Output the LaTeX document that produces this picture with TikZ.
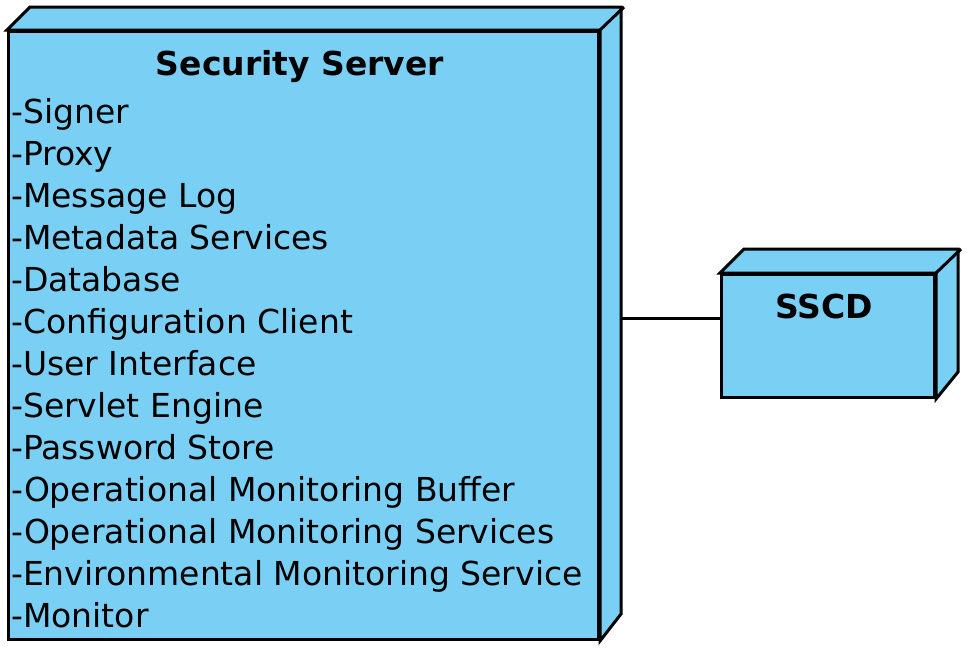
\documentclass[tikz,border=0pt]{standalone}
\usepackage{fontspec}
\setmainfont{DejaVu Sans}
\usetikzlibrary{positioning}
\definecolor{nodeblue}{RGB}{122,207,244}
\tikzset{
  nodebox/.style={draw=black, fill=nodeblue, line width=3pt, inner sep=0pt},
  nodeside/.style={draw=black, fill=nodeblue, line width=3pt, line join=miter},
  title/.style={font=\fontsize{33}{40}\selectfont\bfseries, inner sep=0pt},
  item/.style={font=\fontsize{33}{40}\selectfont, inner sep=0pt}
}

\begin{document}
\begin{tikzpicture}[x=1pt,y=-1pt]
\useasboundingbox (0,0) rectangle (972,654);
% security server
\node[nodebox, anchor=north west, minimum width=590pt, minimum height=608pt] (ss) at (7,30) {};
\filldraw[nodeside] (ss.north west) -- ++(23,-23) -- ++(591,0) -- ++(0,607) -- (ss.south east) -- (ss.north east) -- cycle;
\draw[line width=3pt] (ss.north east) -- ++(24,-23);
\node[title, anchor=base] (sstitle) at (300,75) {Security Server};
\foreach \t [count=\i] in {Signer,Proxy,Message Log,Metadata Services,Database,Configuration Client,User Interface,Servlet Engine,Password Store,Operational Monitoring Buffer,Operational Monitoring Services,Environmental Monitoring Service,Monitor}{
\node[item, anchor=base west] (item\i) at (11,{81+42*\i}) {-\t};
}
%
% sscd
\node[nodebox, anchor=north west, minimum width=213pt, minimum height=123pt] (sscd) at (720,273) {};
\filldraw[nodeside] (sscd.north west) -- ++(24,-24) -- ++(214,0) -- ++(0,123) -- (sscd.south east) -- (sscd.north east) -- cycle;
\draw[line width=3pt] (sscd.north east) -- ++(25,-24);
\node[title, anchor=base] (sscdtitle) at (824,318) {SSCD};
%
\coordinate (ssside) at (621,318);
\draw[line width=3pt] (ssside) -- (ssside -| sscd.west);
\end{tikzpicture}
\end{document}
